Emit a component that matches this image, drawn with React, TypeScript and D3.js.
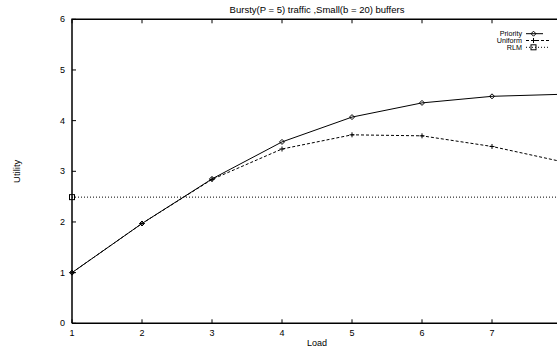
import React from "react";
import * as d3 from "d3";

const loads = [1, 2, 3, 4, 5, 6, 7, 8];
const priority = [1.0, 1.97, 2.85, 3.58, 4.07, 4.35, 4.48, 4.52];
const uniform = [1.0, 1.97, 2.84, 3.44, 3.72, 3.7, 3.49, 3.19];
const rlmLoads = [1, 8];
const rlm = [2.49, 2.49];
const xTicks = [1, 2, 3, 4, 5, 6, 7, 8];
const yTicks = [0, 1, 2, 3, 4, 5, 6];

const W = 557, H = 347;
const M = { left: 72, right: 562, top: 19.3, bottom: 323.3 };
const font = "Liberation Sans, Arial, Helvetica, sans-serif";

export default function App() {
  const x = d3.scaleLinear().domain([1, 8]).range([M.left, M.right]);
  const y = d3.scaleLinear().domain([0, 6]).range([M.bottom, M.top]);
  const line = d3.line<[number, number]>().x(d => x(d[0])).y(d => y(d[1]));
  const pr = loads.map((l, i) => [l, priority[i]] as [number, number]);
  const un = loads.map((l, i) => [l, uniform[i]] as [number, number]);
  const rl = rlmLoads.map((l, i) => [l, rlm[i]] as [number, number]);
  const diamond = (cx: number, cy: number, k: string) => (
    <path key={k} d={`M${cx},${cy - 2.5}L${cx + 2.5},${cy}L${cx},${cy + 2.5}L${cx - 2.5},${cy}Z`} fill="none" stroke="#000" strokeWidth={1} />
  );
  const plus = (cx: number, cy: number, k: string) => (
    <path key={k} d={`M${cx - 2.5},${cy}H${cx + 2.5}M${cx},${cy - 2.5}V${cy + 2.5}`} stroke="#000" strokeWidth={1} />
  );
  const square = (cx: number, cy: number, k: string) => (
    <rect key={k} x={cx - 2.5} y={cy - 2.5} width={5} height={5} fill="none" stroke="#000" strokeWidth={1} />
  );
  const legend = [
    { label: "Priority", dash: undefined, marker: diamond },
    { label: "Uniform", dash: "3,2", marker: plus },
    { label: "RLM", dash: "1,2", marker: square },
  ];
  return (
    <svg width={W} height={H} style={{ position: "absolute", left: 0, top: 0, background: "#fff" }}>
      <defs>
        <clipPath id="clip">
          <rect x={M.left} y={M.top} width={M.right - M.left} height={M.bottom - M.top} />
        </clipPath>
      </defs>
      <g fontFamily={font} fontSize={9} fill="#000">
        {yTicks.map(t => (
          <g key={"y" + t}>
            <line x1={M.left} x2={M.left + 4} y1={y(t)} y2={y(t)} stroke="#000" />
            <text x={65} y={y(t)} dy="0.35em" textAnchor="end">{t}</text>
          </g>
        ))}
        {xTicks.map(t => (
          <g key={"x" + t}>
            <line x1={x(t)} x2={x(t)} y1={M.bottom} y2={M.bottom - 4} stroke="#000" />
            <line x1={x(t)} x2={x(t)} y1={M.top} y2={M.top + 4} stroke="#000" />
            {x(t) + 3 <= W ? <text x={x(t)} y={336} textAnchor="middle">{t}</text> : null}
          </g>
        ))}
        <text x={317} y={346} textAnchor="middle">Load</text>
        <text transform={`translate(19.5,${(M.top + M.bottom) / 2}) rotate(-90)`} textAnchor="middle" fontSize={9.5}>Utility</text>
        <text x={317} y={13} textAnchor="middle" fontSize={9.5}>Bursty(P = 5) traffic ,Small(b = 20) buffers</text>
      </g>
      <path d={`M${M.left},${M.bottom}V${M.top}H${M.right}M${M.left},${M.bottom}H${M.right}`} fill="none" stroke="#000" strokeWidth={1.5} />
      <g clipPath="url(#clip)">
        <path d={line(rl) || ""} fill="none" stroke="#000" strokeWidth={1} strokeDasharray="1,2" />
        <path d={line(un) || ""} fill="none" stroke="#000" strokeWidth={1} strokeDasharray="3,2" />
        <path d={line(pr) || ""} fill="none" stroke="#000" strokeWidth={1} />
      </g>
      {rl.map((d, i) => (x(d[0]) <= W ? square(x(d[0]), y(d[1]), "r" + i) : null))}
      {un.map((d, i) => (x(d[0]) <= W ? plus(x(d[0]), y(d[1]), "u" + i) : null))}
      {pr.map((d, i) => (x(d[0]) <= W ? diamond(x(d[0]), y(d[1]), "p" + i) : null))}
      <g fontFamily={font} fontSize={7.2} fill="#000">
        {legend.map((l, i) => {
          const ly = 33.7 + i * 6.8;
          return (
            <g key={l.label}>
              <text x={522} y={ly} dy="0.35em" textAnchor="end">{l.label}</text>
              <line x1={526} x2={l.dash ? 550 : 543} y1={ly} y2={ly} stroke="#000" strokeWidth={1} strokeDasharray={l.dash} />
              {l.marker(533.5, ly, "lm" + i)}
            </g>
          );
        })}
      </g>
    </svg>
  );
}
